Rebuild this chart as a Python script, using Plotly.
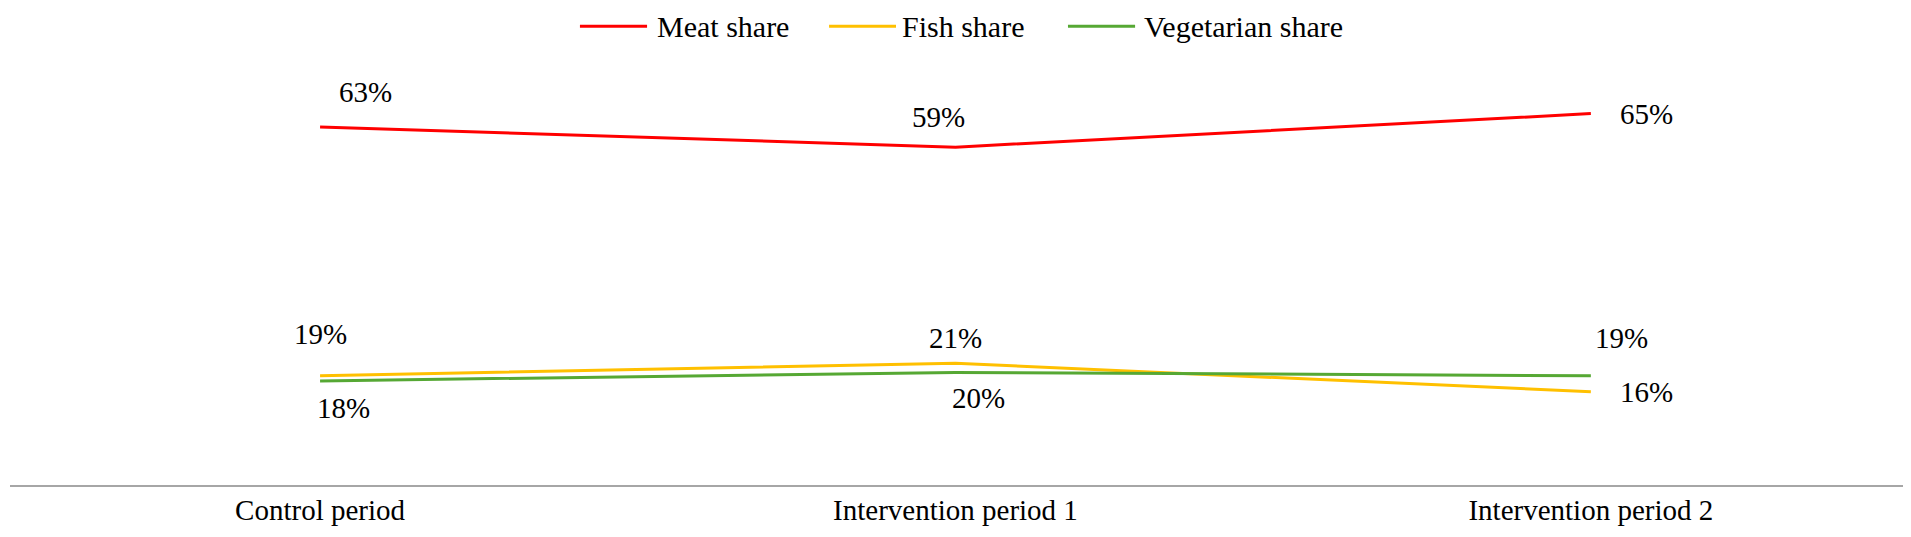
import plotly.graph_objects as go

categories = ["Control period", "Intervention period 1", "Intervention period 2"]
meat_share = [62.96, 59.4, 65.3]
fish_share = [19.2, 21.4, 16.4]
veg_share = [18.3, 19.8, 19.2]

series = [
    ("Meat share", meat_share, "#FF0000"),
    ("Fish share", fish_share, "#FFC000"),
    ("Vegetarian share", veg_share, "#56A834"),
]

# label pixel offsets (dx, dy) per point, dy positive = downward
label_offsets = {
    "Meat share": [(45, -35), (-17, -30), (56, 0)],
    "Fish share": [(0, -42), (0, -25), (56, 0)],
    "Vegetarian share": [(23, 27), (23, 26), (31, -38)],
}

# custom legend layout (paper x of line start/end, text start)
legend_pos = [(0.3006, 0.3360, 0.3402), (0.4320, 0.4673, 0.4694), (0.5580, 0.5934, 0.5970)]
LEGEND_Y = 1.0085

FONT = "Liberation Serif"

fig = go.Figure()
annotations = []
shapes = []
for (name, vals, color), (lx0, lx1, tx) in zip(series, legend_pos):
    fig.add_trace(go.Scatter(
        x=categories, y=vals, mode="lines", name=name,
        line=dict(color=color, width=3),
        hoverinfo="skip", showlegend=False,
    ))
    for c, v, (dx, dy) in zip(categories, vals, label_offsets[name]):
        annotations.append(dict(
            x=c, y=v, xref="x", yref="y", text=f"{round(v):d}%",
            showarrow=False, xshift=dx, yshift=-dy,
            font=dict(family=FONT, size=29, color="#000000"),
        ))
    shapes.append(dict(
        type="line", xref="paper", yref="paper",
        x0=lx0, x1=lx1, y0=LEGEND_Y, y1=LEGEND_Y,
        line=dict(color=color, width=3),
    ))
    annotations.append(dict(
        x=tx, y=LEGEND_Y, xref="paper", yref="paper", text=name,
        showarrow=False, xanchor="left", yanchor="middle",
        font=dict(family=FONT, size=30, color="#000000"),
    ))

fig.update_layout(
    width=1903, height=529,
    margin=dict(l=2, r=5, t=22, b=52, autoexpand=False),
    paper_bgcolor="white", plot_bgcolor="white",
    font=dict(family=FONT, size=29, color="#000000"),
    showlegend=False,
    annotations=annotations,
    shapes=shapes,
    xaxis=dict(
        type="category", range=[-0.488, 2.496], showgrid=False, zeroline=False,
        showline=True, linecolor="#A6A6A6", linewidth=2,
        ticks="", tickfont=dict(family=FONT, size=29, color="#000000"),
        ticklabelstandoff=-2,
    ),
    yaxis=dict(range=[0, 80], visible=False, showgrid=False, zeroline=False),
)

fig.write_html("out.html")
